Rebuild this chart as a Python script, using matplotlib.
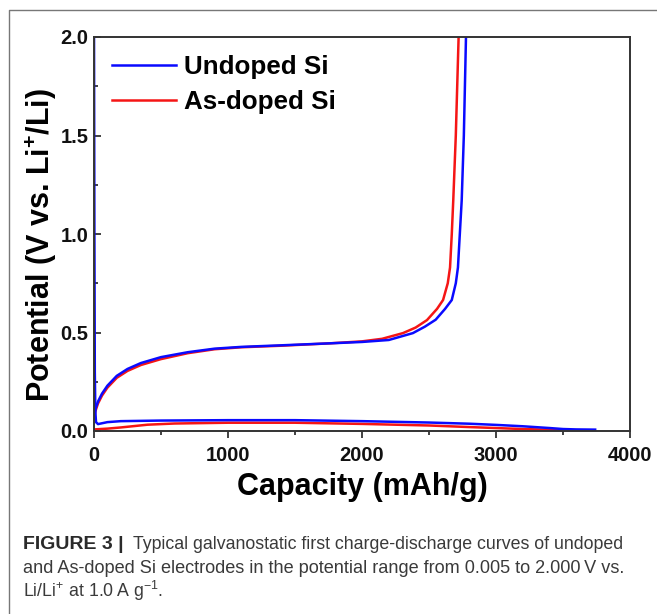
import matplotlib
matplotlib.use("Agg")
import matplotlib.pyplot as plt
from matplotlib.lines import Line2D
from matplotlib.ticker import MultipleLocator

# charge (delithiation) curves, capacity in mAh/g and potential in V
undoped_charge_cap = [0, 10, 30, 60, 100, 170, 250, 350, 500, 700, 900, 1100, 1400, 1760, 2000,
                      2200, 2380, 2470, 2550, 2620, 2670, 2700, 2716, 2730, 2744, 2760, 2776, 2780]
undoped_charge_v = [0.07, 0.11, 0.15, 0.19, 0.23, 0.28, 0.315, 0.345, 0.375, 0.40, 0.418, 0.427, 0.435, 0.445, 0.452,
                    0.462, 0.497, 0.53, 0.565, 0.62, 0.665, 0.75, 0.83, 1.0, 1.17, 1.5, 2.0, 2.05]
doped_charge_cap = [0, 10, 30, 60, 100, 170, 250, 350, 500, 700, 900, 1100, 1400, 1760, 2000,
                    2150, 2306, 2400, 2485, 2560, 2605, 2640, 2657, 2670, 2681, 2700, 2721, 2724]
doped_charge_v = [0.06, 0.10, 0.14, 0.18, 0.22, 0.27, 0.305, 0.335, 0.365, 0.395, 0.415, 0.425, 0.433, 0.445, 0.455,
                  0.468, 0.497, 0.525, 0.563, 0.62, 0.665, 0.75, 0.83, 1.0, 1.17, 1.5, 2.0, 2.05]

# discharge (lithiation) curves
undoped_dis_cap = [0, 3, 6, 10, 15, 30, 100, 200, 500, 1000, 1500, 2000, 2500, 2800, 3000, 3200, 3400, 3500, 3600, 3740]
undoped_dis_v = [2.05, 1.0, 0.3, 0.1, 0.045, 0.035, 0.045, 0.05, 0.053, 0.055, 0.055, 0.05, 0.043, 0.037, 0.031,
                 0.024, 0.015, 0.01, 0.008, 0.007]
doped_dis_cap = [0, 100, 200, 300, 400, 600, 1000, 1500, 2000, 2500, 2800, 3000, 3200, 3478]
doped_dis_v = [0.008, 0.012, 0.018, 0.025, 0.032, 0.038, 0.042, 0.042, 0.036, 0.028, 0.02, 0.015, 0.01, 0.005]

labels = ["Undoped Si", "As-doped Si"]
colors = ["#0a0aff", "#f51515"]

caption_bold = "FIGURE 3 |"
caption_lines = ["Typical galvanostatic first charge-discharge curves of undoped",
                 "and As-doped Si electrodes in the potential range from 0.005 to 2.000\u2009V vs.",
                 "Li/Li$^{+}$ at 1.0\u2009A g$^{-1}$."]

plt.rcParams["font.family"] = ["Liberation Sans", "DejaVu Sans"]
plt.rcParams["mathtext.fontset"] = "custom"
plt.rcParams["mathtext.rm"] = "Liberation Sans"
plt.rcParams["mathtext.bf"] = "Liberation Sans:bold"

W, H = 657, 614
fig = plt.figure(figsize=(W / 100, H / 100), dpi=100)
ax = fig.add_axes([94 / W, 1 - 431 / H, 536 / W, 394 / H])

lw = 1.8
ax.plot(doped_charge_cap, doped_charge_v, color=colors[1], lw=lw)
ax.plot(doped_dis_cap, doped_dis_v, color=colors[1], lw=lw)
ax.plot(undoped_charge_cap, undoped_charge_v, color=colors[0], lw=lw)
ax.plot(undoped_dis_cap, undoped_dis_v, color=colors[0], lw=lw)

ax.set_xlim(0, 4000)
ax.set_ylim(0, 2.0)
ax.xaxis.set_major_locator(MultipleLocator(1000))
ax.xaxis.set_minor_locator(MultipleLocator(500))
ax.yaxis.set_major_locator(MultipleLocator(0.5))
ax.yaxis.set_minor_locator(MultipleLocator(0.25))
ax.yaxis.set_major_formatter(plt.FormatStrFormatter("%.1f"))

for s in ax.spines.values():
    s.set_linewidth(1.4)
    s.set_color("#333333")
ax.tick_params(axis="x", which="both", direction="out", width=1.3, colors="#333333",
               labelcolor="#111111", labelsize=14.5, pad=6)
ax.tick_params(axis="y", which="both", direction="in", width=1.3, colors="#333333",
               labelcolor="#111111", labelsize=14.5, pad=4)
ax.tick_params(which="major", length=5)
ax.tick_params(which="minor", length=3)
for t in ax.get_xticklabels() + ax.get_yticklabels():
    t.set_fontweight("bold")

ax.set_xlabel("Capacity (mAh/g)", fontsize=22, fontweight="bold", va="baseline")
ax.xaxis.set_label_coords(0.5, (431 - 495) / 394)
ax.set_ylabel("Potential (V vs. Li$^{\\mathbf{+}}$/Li)", fontsize=22, fontweight="bold", va="center")
ax.yaxis.set_label_coords((41 - 94) / 536, (431 - 245) / 394)

handles = [Line2D([], [], color=c, lw=lw) for c in colors]
ax.legend(handles, labels, loc="upper left", bbox_to_anchor=(18 / 536, (431 - 55) / 394),
          frameon=False, borderpad=0, borderaxespad=0, handlelength=2.45, handletextpad=0.33,
          labelspacing=0.42, prop={"weight": "bold", "size": 18.7})

# outer frame of the figure panel
fig.add_artist(Line2D([9 / W, 9 / W, 1.01], [0, 1 - 10 / H, 1 - 10 / H],
                      transform=fig.transFigure, color="#777777", lw=1.0))

# caption
fig.text(23 / W, 1 - 549 / H, caption_bold, fontsize=14, fontweight="bold", color="#2a2a2a", va="baseline")
fig.text(133 / W, 1 - 549 / H, caption_lines[0], fontsize=12.8, color="#3a3a3a", va="baseline")
fig.text(23 / W, 1 - 573 / H, caption_lines[1], fontsize=13.1, color="#3a3a3a", va="baseline")
fig.text(23 / W, 1 - 597 / H, caption_lines[2], fontsize=12.8, color="#3a3a3a", va="baseline")

fig.savefig("out.png", dpi=100)
